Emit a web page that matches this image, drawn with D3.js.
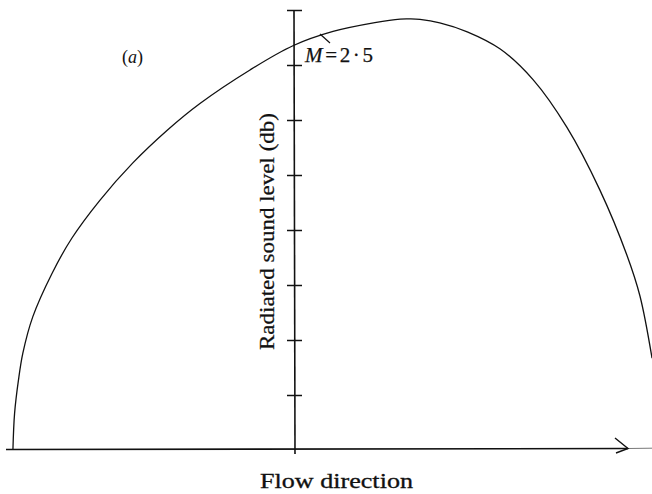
<!DOCTYPE html>
<html>
<head>
<meta charset="utf-8">
<script src="https://cdn.jsdelivr.net/npm/d3@7"></script>
<style>
  html, body { margin: 0; padding: 0; background: #fff; }
  svg { display: block; }
  text { font-family: "Liberation Serif", "DejaVu Serif", serif; fill: #111; }
</style>
</head>
<body>
<svg id="chart" width="652" height="494"></svg>
<script>
// Directivity of radiated sound: level (db, arbitrary units) against position along the flow axis
const flowPos = [-5.11, -5.08, -5.01, -4.93, -4.75, -4.40, -4.04, -3.53, -2.93, -2.31, -1.71,
                 -0.80, -0.02, 0.71, 1.47, 1.93, 2.11, 2.29, 2.65, 3.15, 3.75, 4.35, 4.96,
                 5.56, 6.05, 6.29, 6.51];
const soundLevel = [0.02, 0.67, 1.27, 1.76, 2.42, 3.21, 3.85, 4.54, 5.22, 5.81, 6.30,
                    6.91, 7.35, 7.61, 7.77, 7.835, 7.838, 7.829, 7.767, 7.604, 7.291, 6.73, 5.87,
                    4.73, 3.55, 2.80, 1.67];
const levelTicks = [1, 2, 3, 4, 5, 6, 7, 8];
const curveLabel = { name: "M", value: "2·5" };
const panelLabel = "a";
const xTitle = "Flow direction";
const yTitle = "Radiated sound level (db)";

const svg = d3.select("#chart");

const x = d3.scaleLinear().domain([-5, 6]).range([19, 624]);
const y = d3.scaleLinear().domain([0, 8]).range([450, 10]);
const x0 = x(0), y0 = y(0);

// Horizontal (flow) axis with arrow
svg.append("line")
  .attr("x1", 6).attr("x2", 628).attr("y1", y0 - 0.5).attr("y2", y0 - 1.5)
  .attr("stroke", "#111").attr("stroke-width", 1.6);
svg.append("line")
  .attr("x1", 628).attr("x2", 652).attr("y1", y0 - 1.5).attr("y2", y0 - 1.8)
  .attr("stroke", "#555").attr("stroke-width", 0.8);
svg.append("path")
  .attr("d", `M${615},${y0 - 12} L${628},${y0 - 1.5} L${616},${y0 + 3}`)
  .attr("fill", "none").attr("stroke", "#111").attr("stroke-width", 1.4);

// Vertical (level) axis: ticks crossing the line on both sides
svg.append("line")
  .attr("x1", x0).attr("x2", x0 + 1).attr("y1", y(8)).attr("y2", y0 + 4)
  .attr("stroke", "#111").attr("stroke-width", 1.6);

const leftTicks = svg.append("g")
  .attr("transform", `translate(${x0},0)`)
  .call(d3.axisLeft(y).tickValues(levelTicks).tickSize(7).tickFormat(""));
const rightTicks = svg.append("g")
  .attr("transform", `translate(${x0},0)`)
  .call(d3.axisRight(y).tickValues(levelTicks).tickSize(8).tickFormat(""));
[leftTicks, rightTicks].forEach(g => {
  g.select(".domain").remove();
  g.selectAll(".tick line").attr("stroke", "#111").attr("stroke-width", 1.5);
});

// The directivity curve
const line = d3.line()
  .x((d, i) => x(flowPos[i]))
  .y((d, i) => y(soundLevel[i]))
  .curve(d3.curveCatmullRom.alpha(0.5));
svg.append("path")
  .datum(flowPos)
  .attr("d", line)
  .attr("fill", "none")
  .attr("stroke", "#111")
  .attr("stroke-width", 1.3);

// Curve label with its leader stroke
svg.append("line")
  .attr("x1", 320).attr("y1", 34).attr("x2", 330).attr("y2", 43)
  .attr("stroke", "#111").attr("stroke-width", 1.2);
const ml = svg.append("text")
  .attr("x", 305).attr("y", 62)
  .attr("font-size", 21)
  .attr("stroke", "#111").attr("stroke-width", 0.25)
  .attr("textLength", 68).attr("lengthAdjust", "spacing");
ml.append("tspan").attr("font-style", "italic").text(curveLabel.name);
ml.append("tspan").text("=" + curveLabel.value);

// Panel label
const pl = svg.append("text").attr("x", 122).attr("y", 63).attr("font-size", 18);
pl.append("tspan").text("(");
pl.append("tspan").attr("font-style", "italic").text(panelLabel);
pl.append("tspan").text(")");

// Axis titles
svg.append("text")
  .attr("x", 260).attr("y", 488)
  .attr("font-size", 20)
  .attr("stroke", "#111").attr("stroke-width", 0.3)
  .attr("textLength", 153).attr("lengthAdjust", "spacingAndGlyphs")
  .text(xTitle);

svg.append("text")
  .attr("transform", "translate(274,350) rotate(-90)")
  .attr("x", 0).attr("y", 0)
  .attr("font-size", 20)
  .attr("stroke", "#111").attr("stroke-width", 0.25)
  .attr("textLength", 237).attr("lengthAdjust", "spacingAndGlyphs")
  .text(yTitle);
</script>
</body>
</html>
